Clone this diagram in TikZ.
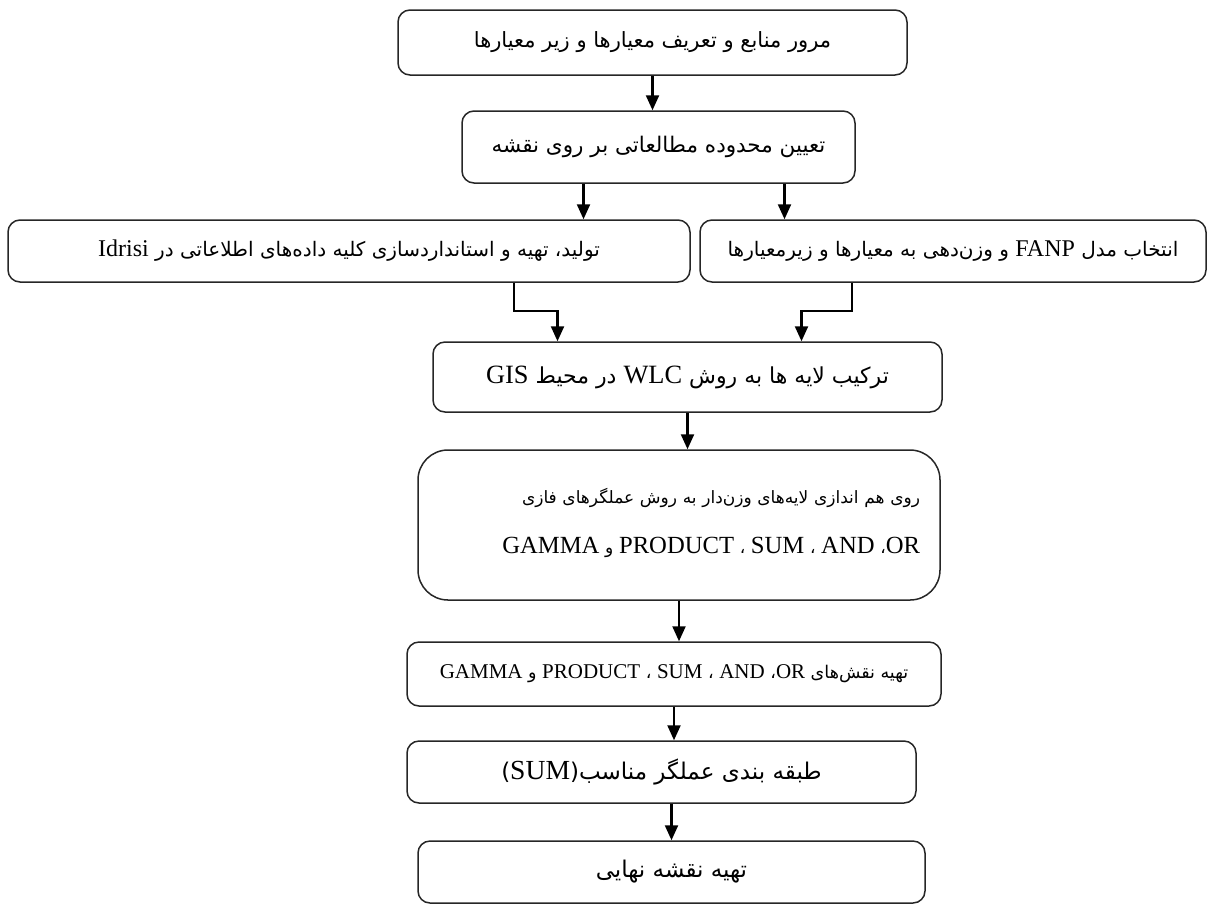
\documentclass[tikz,border=0pt]{standalone}
\usepackage{fontspec}
\setmainfont{Liberation Serif}
\newfontfamily\fa[Script=Arabic]{DejaVu Sans}
\newfontfamily\enfont{Liberation Serif}[Scale=1.2]
\newfontfamily\enbig{Liberation Serif}[Scale=1.45]
\TeXXeTstate=1
\usetikzlibrary{positioning,arrows.meta}
\newcommand\en[1]{\beginL{\enfont #1}\endL}
\newcommand\enb[1]{\beginL{\enbig #1}\endL}
\newcommand\fatext[1]{{\fa\beginR #1\endR}}
\tikzset{font=\fontsize{21}{28}\selectfont}

\begin{document}
\begin{tikzpicture}[x=1pt,y=-1pt]
	\tikzstyle{stepbox}=[draw=black!85, line width=1.5pt, rounded corners=12pt, inner sep=2pt, align=center]
	\tikzstyle{arr}=[line width=2.2pt, -{Triangle[length=15pt,width=13pt]}]
	\useasboundingbox (0,0) rectangle (1207,906);

	\node[stepbox, minimum width=509pt, minimum height=65pt] (review) at (652.5,42.5) {\fatext{مرور منابع و تعریف معیارها و زیر معیارها}};
	\node[stepbox, minimum width=393pt, minimum height=72pt, font=\fontsize{21.5}{28}\selectfont] (area) at (658.5,147) {\fatext{تعیین محدوده مطالعاتی بر روی نقشه}};
	\node[stepbox, minimum width=682pt, minimum height=62pt, font=\fontsize{20}{26}\selectfont] (data) at (349,251) {\fatext{تولید، تهیه و استانداردسازی کلیه داده‌های اطلاعاتی در \en{Idrisi}}};
	\node[stepbox, minimum width=506pt, minimum height=62pt, font=\fontsize{20}{26}\selectfont] (fanp) at (953,251) {\fatext{انتخاب مدل \en{FANP} و وزن‌دهی به معیارها و زیرمعیارها}};
	\node[stepbox, minimum width=509pt, minimum height=70pt, font=\fontsize{22}{28}\selectfont] (wlc) at (687.5,377) {\fatext{ترکیب لایه ها به روش \en{WLC} در محیط \en{GIS}}};
	\node[stepbox, rounded corners=30pt, minimum width=522pt, minimum height=150pt, text width=482pt, align=right, font=\fontsize{17}{50}\selectfont, text depth=58pt] (overlay) at (679,525) {\fatext{روی هم اندازی لایه‌های وزن‌دار به روش عملگرهای فازی}\\\fatext{\enb{OR}، \enb{AND} ، \enb{SUM} ، \enb{PRODUCT} و \enb{GAMMA}}};
	\node[stepbox, minimum width=534pt, minimum height=64pt, font=\fontsize{17.5}{24}\selectfont] (maps) at (674,674) {\fatext{تهیه نقش‌های \en{OR}، \en{AND} ، \en{SUM} ، \en{PRODUCT} و \en{GAMMA}}};
	\node[stepbox, minimum width=509pt, minimum height=62pt, font=\fontsize{23}{28}\selectfont] (classify) at (661.5,772) {\fatext{طبقه بندی عملگر مناسب(\en{SUM})}};
	\node[stepbox, minimum width=507pt, minimum height=62pt, font=\fontsize{23}{28}\selectfont] (final) at (671.5,872) {\fatext{تهیه نقشه نهایی}};

	\draw[arr] (review.south) -- (review.south |- area.north);
	\draw[arr] ([xshift=-75pt]area.south) -- ([xshift=-75pt]area.south |- data.north);
	\draw[arr] ([xshift=126pt]area.south) -- ([xshift=126pt]area.south |- fanp.north);
	\draw[arr] ([xshift=165pt]data.south) |- ([xshift=-130pt,yshift=30pt]wlc.north) -- ([xshift=-130pt]wlc.north);
	\draw[arr] ([xshift=-101pt]fanp.south) |- ([xshift=114pt,yshift=30pt]wlc.north) -- ([xshift=114pt]wlc.north);
	\draw[arr] (wlc.south) -- (wlc.south |- overlay.north);
	\draw[arr] (overlay.south) -- (overlay.south |- maps.north);
	\draw[arr] (maps.south) -- (maps.south |- classify.north);
	\draw[arr] (final.north |- classify.south) -- (final.north);
\end{tikzpicture}
\end{document}
